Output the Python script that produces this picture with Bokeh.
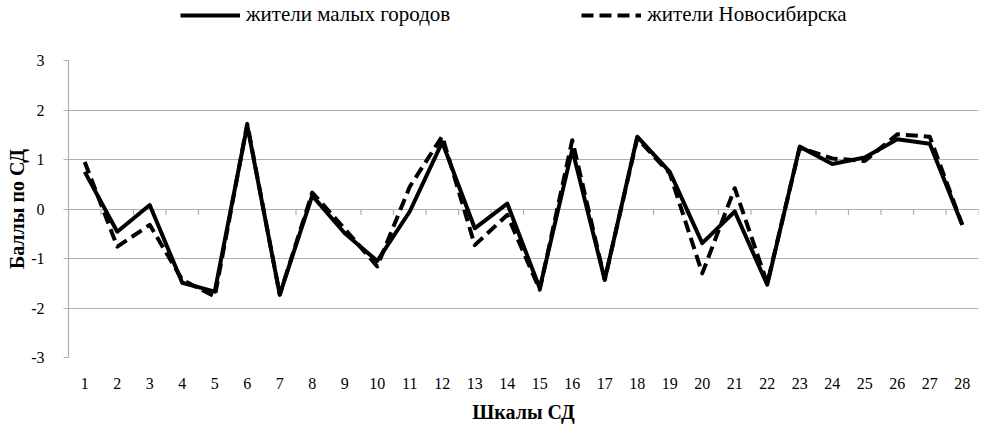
import math
from bokeh.plotting import figure
from bokeh.layouts import column
from bokeh.models import Legend, LegendItem, FixedTicker, Range1d
from bokeh.embed import file_html
from bokeh.resources import INLINE

scales = list(range(1, 29))
small_towns = [0.75, -0.46, 0.08, -1.49, -1.67, 1.69, -1.73, 0.27, -0.49, -1.05,
               -0.05, 1.35, -0.39, 0.11, -1.6, 1.2, -1.43, 1.46, 0.75, -0.69,
               -0.05, -1.53, 1.26, 0.91, 1.04, 1.41, 1.32, -0.32]
novosibirsk = [0.95, -0.76, -0.32, -1.43, -1.77, 1.72, -1.73, 0.33, -0.4, -1.16,
               0.45, 1.47, -0.73, -0.12, -1.63, 1.39, -1.43, 1.43, 0.72, -1.3,
               0.42, -1.5, 1.24, 1.02, 0.97, 1.51, 1.46, -0.32]
y_ticks = [-3, -2, -1, 0, 1, 2, 3]
label_small = "жители малых городов"
label_nsk = "жители Новосибирска"
x_title = "Шкалы СД"
y_title = "Баллы по СД"

FONT = "Liberation Serif"
GRID = "#b0b0b0"
SOLID = dict(line_color="black", line_width=4, line_join="round")
DASHED = dict(line_color="black", line_width=4, line_join="round", line_dash="12 6")

p = figure(width=979, height=392, output_backend="svg", toolbar_location=None,
           x_range=Range1d(scales[0] - 0.5, scales[-1] + 0.5),
           y_range=Range1d(y_ticks[0], y_ticks[-1]),
           min_border_left=68, min_border_right=1, min_border_top=26,
           min_border_bottom=69)
p.outline_line_color = None
p.background_fill_color = "white"
p.border_fill_color = "white"

# grid
p.xgrid.grid_line_color = None
p.ygrid.grid_line_color = GRID
p.ygrid.grid_line_width = 1.2

# y axis
p.yaxis.ticker = FixedTicker(ticks=y_ticks)
p.yaxis.major_label_overrides = {t: str(t) for t in y_ticks}
p.yaxis.axis_line_color = GRID
p.yaxis.axis_line_width = 1.2
p.yaxis.major_tick_line_color = GRID
p.yaxis.major_tick_out = 5
p.yaxis.major_tick_in = 0
p.yaxis.minor_tick_line_color = None
p.yaxis.major_label_text_font = FONT
p.yaxis.major_label_text_font_size = "16px"
p.yaxis.major_label_text_color = "black"
p.yaxis.major_label_standoff = 19
p.yaxis.axis_label = y_title
p.yaxis.axis_label_text_font = FONT
p.yaxis.axis_label_text_font_size = "20px"
p.yaxis.axis_label_text_font_style = "bold"
p.yaxis.axis_label_text_color = "black"
p.yaxis.axis_label_standoff = 0

# x axis
p.xaxis.ticker = FixedTicker(ticks=scales)
p.xaxis.axis_line_color = None
p.xaxis.major_tick_line_color = None
p.xaxis.major_tick_out = 0
p.xaxis.major_tick_in = 0
p.xaxis.minor_tick_line_color = None
p.xaxis.major_label_text_font = FONT
p.xaxis.major_label_text_font_size = "16px"
p.xaxis.major_label_text_color = "black"
p.xaxis.major_label_standoff = 20
p.xaxis.axis_label = x_title
p.xaxis.axis_label_text_font = FONT
p.xaxis.axis_label_text_font_size = "20px"
p.xaxis.axis_label_text_font_style = "bold"
p.xaxis.axis_label_text_color = "black"
p.xaxis.axis_label_standoff = 9

# category boundary tick marks on the zero line
bounds = [s - 0.5 for s in scales] + [scales[-1] + 0.5]
p.ray(x=bounds, y=[0] * len(bounds), length=6, length_units="screen",
      angle=-math.pi / 2, line_color=GRID, line_width=1.2)

p.line(scales, small_towns, **SOLID)
p.line(scales, novosibirsk, **DASHED)

# legend strip on top (series drawn outside its visible range, only the legend shows)
lg = figure(width=979, height=34, output_backend="svg", toolbar_location=None,
            x_axis_type=None, y_axis_type=None,
            x_range=Range1d(scales[0] - 0.5, scales[-1] + 0.5),
            y_range=Range1d(100, 101),
            min_border=0)
lg.outline_line_color = None
lg.grid.grid_line_color = None
lr1 = lg.line(scales, small_towns, **SOLID)
lr2 = lg.line(scales, novosibirsk, **DASHED)
legend = Legend(items=[LegendItem(label=label_small, renderers=[lr1]),
                       LegendItem(label=label_nsk, renderers=[lr2])],
                orientation="horizontal", location=(112, 7),
                glyph_width=60, glyph_height=20, label_height=20,
                label_standoff=6, spacing=131, padding=0, margin=0,
                border_line_color=None, background_fill_alpha=0,
                label_text_font=FONT, label_text_font_size="21px",
                label_text_color="black")
lg.add_layout(legend, "center")

layout = column(lg, p, spacing=0)
open("out.html", "w").write(file_html(layout, INLINE))
